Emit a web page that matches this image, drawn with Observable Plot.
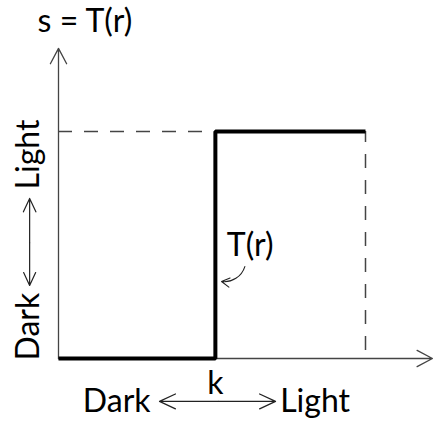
<!DOCTYPE html>
<html>
<head>
<meta charset="utf-8">
<script src="https://cdn.jsdelivr.net/npm/d3@7"></script>
<script src="https://cdn.jsdelivr.net/npm/@observablehq/plot@0.6"></script>
<style>
  html, body { margin: 0; padding: 0; background: #fff; }
  svg { display: block; }
</style>
</head>
<body>
<div id="chart"></div>
<script>
// threshold level k (fraction of the input range)
const k = 0.511;
// step transformation s = T(r)
const rValues = [0, k, k, 1];
const sValues = [0, 0, 1, 1];
// axis extents (arrow tips), in data units
const xAxisEnd = [1.218];
const yAxisEnd = [1.366];
// texts
const titleText = ["s = T(r)"];
const curveLabel = ["T(r)"];
const xLabels = ["Dark", "k", "Light"];
const yLabels = ["Dark", "Light"];

const font = "Lato, 'Open Sans', sans-serif";
const fs = 32;

const chart = Plot.plot({
  width: 433,
  height: 421,
  margin: 0,
  x: {domain: [0, 1], range: [58, 365], axis: null},
  y: {domain: [0, 1], range: [358, 131], axis: null},
  marks: [
    // axes with arrow heads
    Plot.arrow(xAxisEnd, {x1: 0, y1: 0, x2: d => d, y2: 0, stroke: "#444", strokeWidth: 1.3, headLength: 20, headAngle: 56}),
    Plot.arrow(yAxisEnd, {x1: 0, y1: 0, x2: 0, y2: d => d, stroke: "#444", strokeWidth: 1.3, headLength: 20, headAngle: 56}),
    // dashed guides
    Plot.ruleY([1], {x1: 0, x2: k, stroke: "#444", strokeWidth: 1.5, strokeDasharray: "14,12"}),
    Plot.ruleX([1], {y1: 0, y2: 1, stroke: "#444", strokeWidth: 1.5, strokeDasharray: "14,12", strokeDashoffset: -8}),
    // step function
    Plot.line(rValues.map((r, i) => ({r, s: sValues[i]})), {x: "r", y: "s", stroke: "#000", strokeWidth: 4, strokeLinejoin: "miter", strokeLinecap: "butt"}),
    // pointer to the curve
    Plot.arrow(curveLabel, {x1: 0.607, y1: 0.405, x2: 0.531, y2: 0.339, bend: 40, stroke: "#222", strokeWidth: 1.1, headLength: 14, headAngle: 60}),
    // bottom double arrow
    Plot.arrow([0], {x1: 0.52, y1: -0.189, x2: 0.329, y2: -0.189, stroke: "#222", strokeWidth: 1.2, headLength: 22, headAngle: 50}),
    Plot.arrow([0], {x1: 0.52, y1: -0.189, x2: 0.707, y2: -0.189, stroke: "#222", strokeWidth: 1.2, headLength: 22, headAngle: 50}),
    // left double arrow
    Plot.arrow([0], {x1: -0.094, y1: 0.51, x2: -0.094, y2: 0.705, stroke: "#222", strokeWidth: 1.2, headLength: 22, headAngle: 50}),
    Plot.arrow([0], {x1: -0.094, y1: 0.51, x2: -0.094, y2: 0.322, stroke: "#222", strokeWidth: 1.2, headLength: 22, headAngle: 50}),
    // texts
    Plot.text(titleText, {x: -0.068, y: 1.485, text: d => d, textAnchor: "start", lineAnchor: "middle", fontSize: fs, fontFamily: font, fill: "#000"}),
    Plot.text(curveLabel, {x: 0.548, y: 0.498, text: d => d, textAnchor: "start", lineAnchor: "middle", fontSize: fs, fontFamily: font, fill: "#000"}),
    Plot.text([xLabels[0]], {x: 0.30, y: -0.189, text: d => d, textAnchor: "end", lineAnchor: "middle", fontSize: fs, fontFamily: font, fill: "#000"}),
    Plot.text([xLabels[1]], {x: k, y: -0.110, text: d => d, textAnchor: "middle", lineAnchor: "middle", fontSize: fs, fontFamily: font, fill: "#000"}),
    Plot.text([xLabels[2]], {x: 0.722, y: -0.189, text: d => d, textAnchor: "start", lineAnchor: "middle", fontSize: fs, fontFamily: font, fill: "#000"}),
    Plot.text([yLabels[0]], {x: -0.098, y: -0.009, text: d => d, textAnchor: "start", lineAnchor: "middle", rotate: -90, fontSize: fs, fontFamily: font, fill: "#000"}),
    Plot.text([yLabels[1]], {x: -0.098, y: 0.745, text: d => d, textAnchor: "start", lineAnchor: "middle", rotate: -90, fontSize: fs, fontFamily: font, fill: "#000"})
  ]
});
document.getElementById("chart").append(chart);
</script>
</body>
</html>
